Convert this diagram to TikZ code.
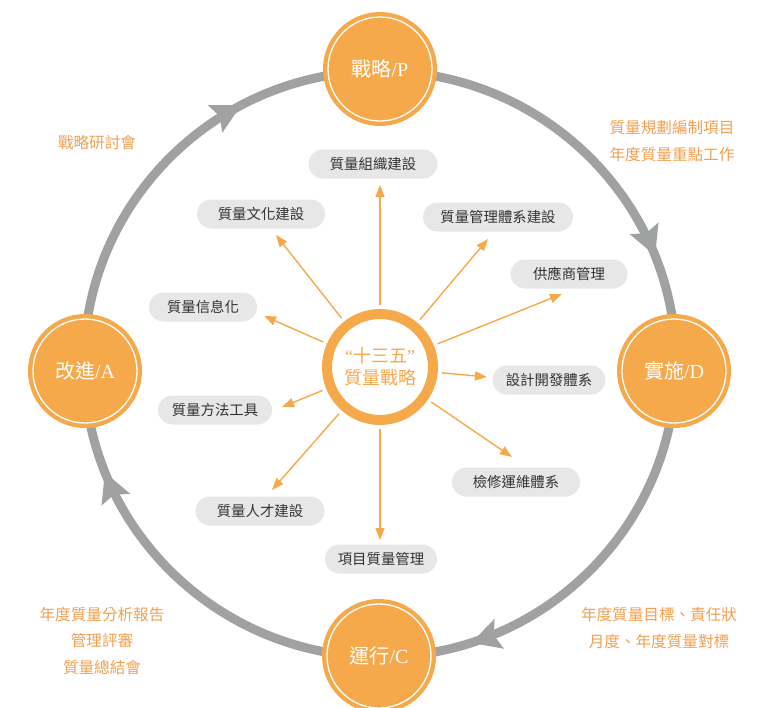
\documentclass[tikz,border=0pt]{standalone}
\usepackage{fontspec}
\setmainfont{Liberation Serif}
\newfontfamily\cjk{Noto Sans CJK TC}
\usetikzlibrary{arrows.meta,decorations.markings}
\definecolor{org}{HTML}{F5A94B}
\definecolor{ringgray}{HTML}{A0A2A1}
\definecolor{pillgray}{HTML}{E7E7E7}
\definecolor{pilltext}{HTML}{333333}
\definecolor{anno}{HTML}{F0A052}
\begin{document}
\begin{tikzpicture}[x=1pt,y=-1pt,
  phase/.style={circle, fill=org, minimum size=114pt, inner sep=0pt, text=white,
    font=\fontsize{20}{22}\selectfont,
    path picture={\draw[white, line width=1.3pt] (path picture bounding box.center) circle[radius=52pt];}},
  hubstyle/.style={circle, draw=org, line width=10pt, minimum size=106pt, inner sep=0pt,
    text=org, align=center, font=\fontsize{18}{22}\selectfont},
  pill/.style={fill=pillgray, rounded corners=14.5pt, minimum height=29pt, inner sep=0pt,
    text=pilltext, font=\cjk\fontsize{14.4}{16}\selectfont},
  annotext/.style={text=anno, align=center, inner sep=0pt, font=\cjk\fontsize{15.6}{26.5}\selectfont},
  arr/.style={draw=org, line width=1.4pt, shorten <=4pt, -{Triangle[length=12pt,width=9pt]}}
]
\useasboundingbox (0,0) rectangle (760,707);

% cycle ring
\draw[ringgray, line width=9pt, postaction={decorate},
  decoration={markings,
    mark=at position 0.2 with {\arrow[ringgray]{Stealth[length=29pt,width=30pt,inset=5pt]}},
    mark=at position 0.44 with {\arrow[ringgray]{Stealth[length=29pt,width=30pt,inset=5pt]}},
    mark=at position 0.672 with {\arrow[ringgray]{Stealth[length=29pt,width=30pt,inset=5pt]}},
    mark=at position 0.94 with {\arrow[ringgray]{Stealth[length=29pt,width=30pt,inset=5pt]}}}]
  (380,364) ellipse [x radius=296, y radius=293];

% phase circles
\node[phase] (P) at (380,69) {{\cjk 戰略}/P};
\node[phase] (D) at (674,371) {{\cjk 實施}/D};
\node[phase] (C) at (379,656) {{\cjk 運行}/C};
\node[phase] (A) at (85,371) {{\cjk 改進}/A};

% hub
\node[hubstyle] (hub) at (380,367) {“{\cjk 十三五}”\\{\cjk 質量戰略}};

% pills
\node[pill, minimum width=129pt] (org) at (373,164) {質量組織建設};
\node[pill, minimum width=128pt] (cul) at (261,214) {質量文化建設};
\node[pill, minimum width=150pt] (sys) at (498,217) {質量管理體系建設};
\node[pill, minimum width=117pt] (sup) at (569,274) {供應商管理};
\node[pill, minimum width=108pt] (inf) at (203,307) {質量信息化};
\node[pill, minimum width=113pt] (dev) at (549,380) {設計開發體系};
\node[pill, minimum width=114pt] (met) at (215,410) {質量方法工具};
\node[pill, minimum width=128pt] (mnt) at (516,482) {檢修運維體系};
\node[pill, minimum width=129pt] (tal) at (260,511) {質量人才建設};
\node[pill, minimum width=112pt] (prj) at (381,559) {項目質量管理};

% arrow tips
\coordinate (eorg) at (380,185);
\coordinate (ecul) at (276,235);
\coordinate (esys) at (488,239);
\coordinate (esup) at (562,294);
\coordinate (einf) at (264,316);
\coordinate (edev) at (487,377);
\coordinate (emet) at (282,407);
\coordinate (emnt) at (512,457);
\coordinate (etal) at (272,490);
\coordinate (eprj) at (380,540);

\foreach \t in {org,cul,sys,sup,inf,dev,met,mnt,tal,prj}
  \draw[arr] (hub) -- (e\t);

% annotations
\node[annotext] (n1) at (97,143) {戰略研討會};
\node[annotext] (n2) at (672,141) {質量規劃編制項目\\年度質量重點工作};
\node[annotext] (n3) at (659,628) {年度質量目標、責任狀\\月度、年度質量對標};
\node[annotext] (n4) at (102,641) {年度質量分析報告\\管理評審\\質量總結會};
\end{tikzpicture}
\end{document}
